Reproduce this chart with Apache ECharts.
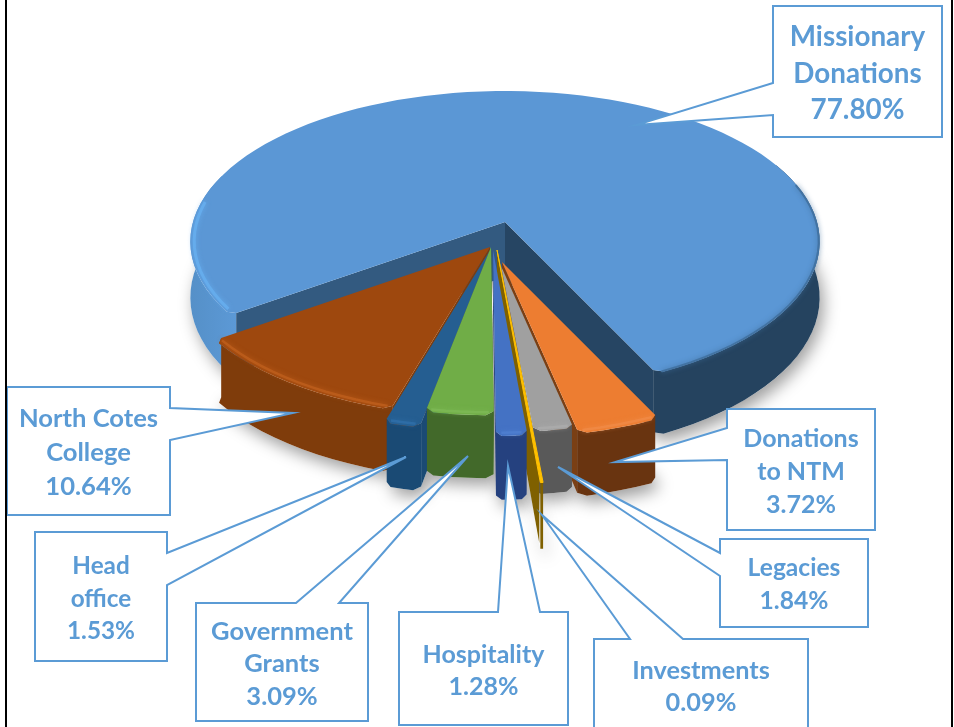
<!DOCTYPE html>
<html>
<head>
<meta charset="utf-8">
<style>html,body{margin:0;padding:0;background:#fff}#c{width:954px;height:727px}</style>
<script src="https://cdn.jsdelivr.net/npm/echarts@6/dist/echarts.min.js"></script>
</head>
<body>
<div id="c"></div>
<script>
// ---- data ----
const categories = ['Missionary\nDonations','Donations\nto NTM','Legacies','Investments','Hospitality','Government\nGrants','Head\noffice','North Cotes\nCollege'];
const values = [77.80,3.72,1.84,0.09,1.28,3.09,1.53,10.64];

// ---- projection of the tilted pie ----
const startDeg = 144.5, A = 312, B = 148, P = 0.13, D = 55, STEPS = 3;
const rad = d => d * Math.PI / 180;
function pt(sl, deg, r, down) {
  const t = rad(deg), s = 1 / (1 - P * r * Math.sin(t));
  return [sl.ax + A * r * Math.cos(t) * s, sl.ay + B * r * Math.sin(t) * s + (down ? D * s : 0)];
}
// per-slice placement and colours, same order as values
const looks = [
  {ax:505,ay:222,r:1,   top:'#5B97D5',side:'#25435F',wall:'#264563',wall2:'#335A80',rim:null,z:10},
  {ax:502,ay:262,r:1.03,top:'#ED7D31',side:'#693410',wall:'#7A3F14',rim:'#F08A45',z:22},
  {ax:501,ay:266,r:.98, top:'#A0A0A0',side:'#595959',wall:'#6A6A6A',rim:'#ABABAB',z:24},
  {ax:497,ay:250,r:1.31,top:'#FFC000',side:'#7F6000',wall:'#7F6000',rim:null,z:26},
  {ax:493,ay:250,r:1.08,top:'#4472C4',side:'#25417F',wall:'#25417F',rim:'#4F7FD0',z:34},
  {ax:491,ay:247,r:.99, top:'#70AD47',side:'#42692A',wall:'#42692A',rim:'#7DB955',z:32},
  {ax:490,ay:250,r:1.055,top:'#255E91',side:'#1A4A74',wall:'#1A4A74',rim:'#2F6FA8',z:30},
  {ax:490,ay:247,r:1.0, top:'#9E480E',side:'#7F3C0B',wall:'#7F3C0B',rim:'#BD5E1C',z:20}
];
const total = values.reduce((a, b) => a + b, 0);
const ranges = [];
values.reduce((acc, v) => { const e = acc + v / total * 360; ranges.push([acc, e]); return e; }, startDeg);

function arc(sl, a0, a1, r, down) {
  const out = [], n = Math.max(2, Math.ceil(Math.abs(a1 - a0) / STEPS));
  for (let i = 0; i <= n; i++) out.push(pt(sl, a0 + (a1 - a0) * i / n, r, down));
  return out;
}
// outer arc with chamfered (bevelled) corners
function outline(sl, a0, a1, r, down) {
  const e = (a1 - a0) > 2 ? Math.min(1.3, (a1 - a0) * .18) : 0;
  if (!e) return arc(sl, a0, a1, r, down);
  return [pt(sl, a0, r * .98, down)].concat(arc(sl, a0 + e, a1 - e, r, down), [pt(sl, a1, r * .98, down)]);
}
const poly = (points, fill, z2, extra) => ({type:'polygon', z2, silent:true, shape:{points}, style:Object.assign({fill}, extra || {})});
const grad = (c0, c1) => new echarts.graphic.LinearGradient(0, 0, 1, 0, [{offset:0, color:c0},{offset:1, color:c1}]);
const rimLine = (points, color, z2, w) => ({type:'polyline', z2, silent:true, shape:{points},
  style:{fill:null, stroke:color, lineWidth:w, opacity:.85, shadowBlur:5, shadowColor:color}});

function renderSlice(params) {
  const i = params.dataIndex, sl = looks[i], [a0, a1] = ranges[i], r = sl.r, z = sl.z, kids = [];
  const apex = [sl.ax, sl.ay], apexD = [sl.ax, sl.ay + D];
  const wall = (deg, col, zz) => poly([apex, pt(sl, deg, r * .98), pt(sl, deg, r * .98, true), apexD], col, zz);
  const side = (d0, d1, fill, zz) => poly(outline(sl, d0, d1, r).concat(outline(sl, d0, d1, r, true).reverse()), fill, zz);
  const top = outline(sl, a0, a1, r);
  // soft cast shadow of the whole slice footprint
  kids.push(poly([apexD].concat(outline(sl, a0, a1, r, true)), '#fff', 1,
    {shadowBlur:16, shadowColor:'rgba(0,0,0,.38)', shadowOffsetX:4, shadowOffsetY:7}));
  if (i === 0) {
    kids.push(side(a0, 200, grad('#5590C8','#5C99D6'), z));
    kids.push(side(335, a1, sl.side, z));
    kids.push(wall(a1 - 360, sl.wall, z + 1));
    kids.push(wall(a0, sl.wall2, z + 1));
    kids.push(poly([apex].concat(top), sl.top, z + 2));
    kids.push(rimLine(arc(sl, a0 + 2, 188, .988), '#66AEEF', z + 3, 3));
    kids.push(rimLine(arc(sl, 345, a1 - 1, .997), '#3F6F9C', z + 3, 2));
  } else if (i === 3) {
    kids.push(wall(a1, sl.wall, z));
    kids.push(poly([apex, pt(sl, a0, r), pt(sl, a0, r, true), pt(sl, a1, r, true), pt(sl, a1, r)], sl.side, z));
    kids.push(poly([apex, pt(sl, a0, r), pt(sl, a1, r)], sl.top, 36, {stroke:sl.top, lineWidth:1}));
  } else {
    const mid = ((a0 + a1) / 2) % 360;
    kids.push(wall(mid < 90 ? a1 : a0, sl.wall, z));
    kids.push(side(a0, a1, sl.side, z + 1));
    kids.push(poly([apex].concat(top), sl.top, z + 2));
    if (sl.rim) kids.push(rimLine(arc(sl, a0 + .8, a1 - .8, r * .985), sl.rim, z + 3, 2.5));
  }
  return {type:'group', children:kids};
}

// ---- callout boxes: box [x0,y0,x1,y1], pointer edge + its two attach points, tip, text centre + size ----
const callouts = [
  {box:[773,6,942,137],   edge:'left',  at:[83,115],  tip:[636,125], ty:74,  size:27.8,lh:36.5},
  {box:[727,409,875,530], edge:'left',  at:[428,460], tip:[615,462], ty:472, size:25,  lh:33},
  {box:[720,539,868,627], edge:'left',  at:[553,576], tip:[558,467], ty:585, size:24.6,lh:33},
  {box:[594,639,808,745], edge:'top',   at:[630,683], tip:[542,515], ty:687, size:25.3,lh:32},
  {box:[399,612,568,725], edge:'top',   at:[498,540], tip:[508,466], ty:671, size:25,  lh:32},
  {box:[196,603,368,721], edge:'top',   at:[296,339], tip:[468,456], ty:664, size:25.5,lh:32.5},
  {box:[35,532,167,661],  edge:'right', at:[553,585], tip:[406,457], ty:599, size:24.3,lh:32.5},
  {box:[7,387,170,515],   edge:'right', at:[408,440], tip:[293,413], ty:453, size:25.6,lh:34}
];
function calloutPoints(c) {
  const [x0, y0, x1, y1] = c.box, [a, b] = c.at;
  if (c.edge === 'left')  return [[x0,y0],[x1,y0],[x1,y1],[x0,y1],[x0,b],c.tip,[x0,a]];
  if (c.edge === 'right') return [[x0,y0],[x1,y0],[x1,a],c.tip,[x1,b],[x1,y1],[x0,y1]];
  return [[x0,y0],[a,y0],c.tip,[b,y0],[x1,y0],[x1,y1],[x0,y1]];
}
function renderCallout(params) {
  const i = params.dataIndex, c = callouts[i];
  return {type:'group', children:[
    {type:'polygon', silent:true, z2:100 + i, shape:{points:calloutPoints(c)},
      style:{fill:'#fff', stroke:'#5B9BD5', lineWidth:2, lineJoin:'miter'}},
    {type:'text', silent:true, z2:120 + i, style:{
      text:categories[i] + '\n' + values[i].toFixed(2) + '%',
      x:(c.box[0] + c.box[2]) / 2, y:c.ty, align:'center', verticalAlign:'middle',
      font:'bold ' + c.size + 'px Lato', lineHeight:c.lh, fill:'#5B9BD5'}}
  ]};
}

const chart = echarts.init(document.getElementById('c'), null, {renderer:'canvas'});
chart.setOption({
  animation:false,
  backgroundColor:'#fff',
  series:[
    {type:'custom', coordinateSystem:'none', clip:false, z:2, renderItem:renderSlice,
      data:values.map((v, i) => ({name:categories[i], value:v}))},
    {type:'custom', coordinateSystem:'none', clip:false, z:5, renderItem:renderCallout,
      data:values.map((v, i) => ({name:categories[i], value:v}))}
  ],
  graphic:[
    {type:'rect', z:10, silent:true, shape:{x:5,y:0,width:2,height:727}, style:{fill:'#000'}},
    {type:'rect', z:10, silent:true, shape:{x:951,y:0,width:2,height:727}, style:{fill:'#000'}}
  ]
});
</script>
</body>
</html>
